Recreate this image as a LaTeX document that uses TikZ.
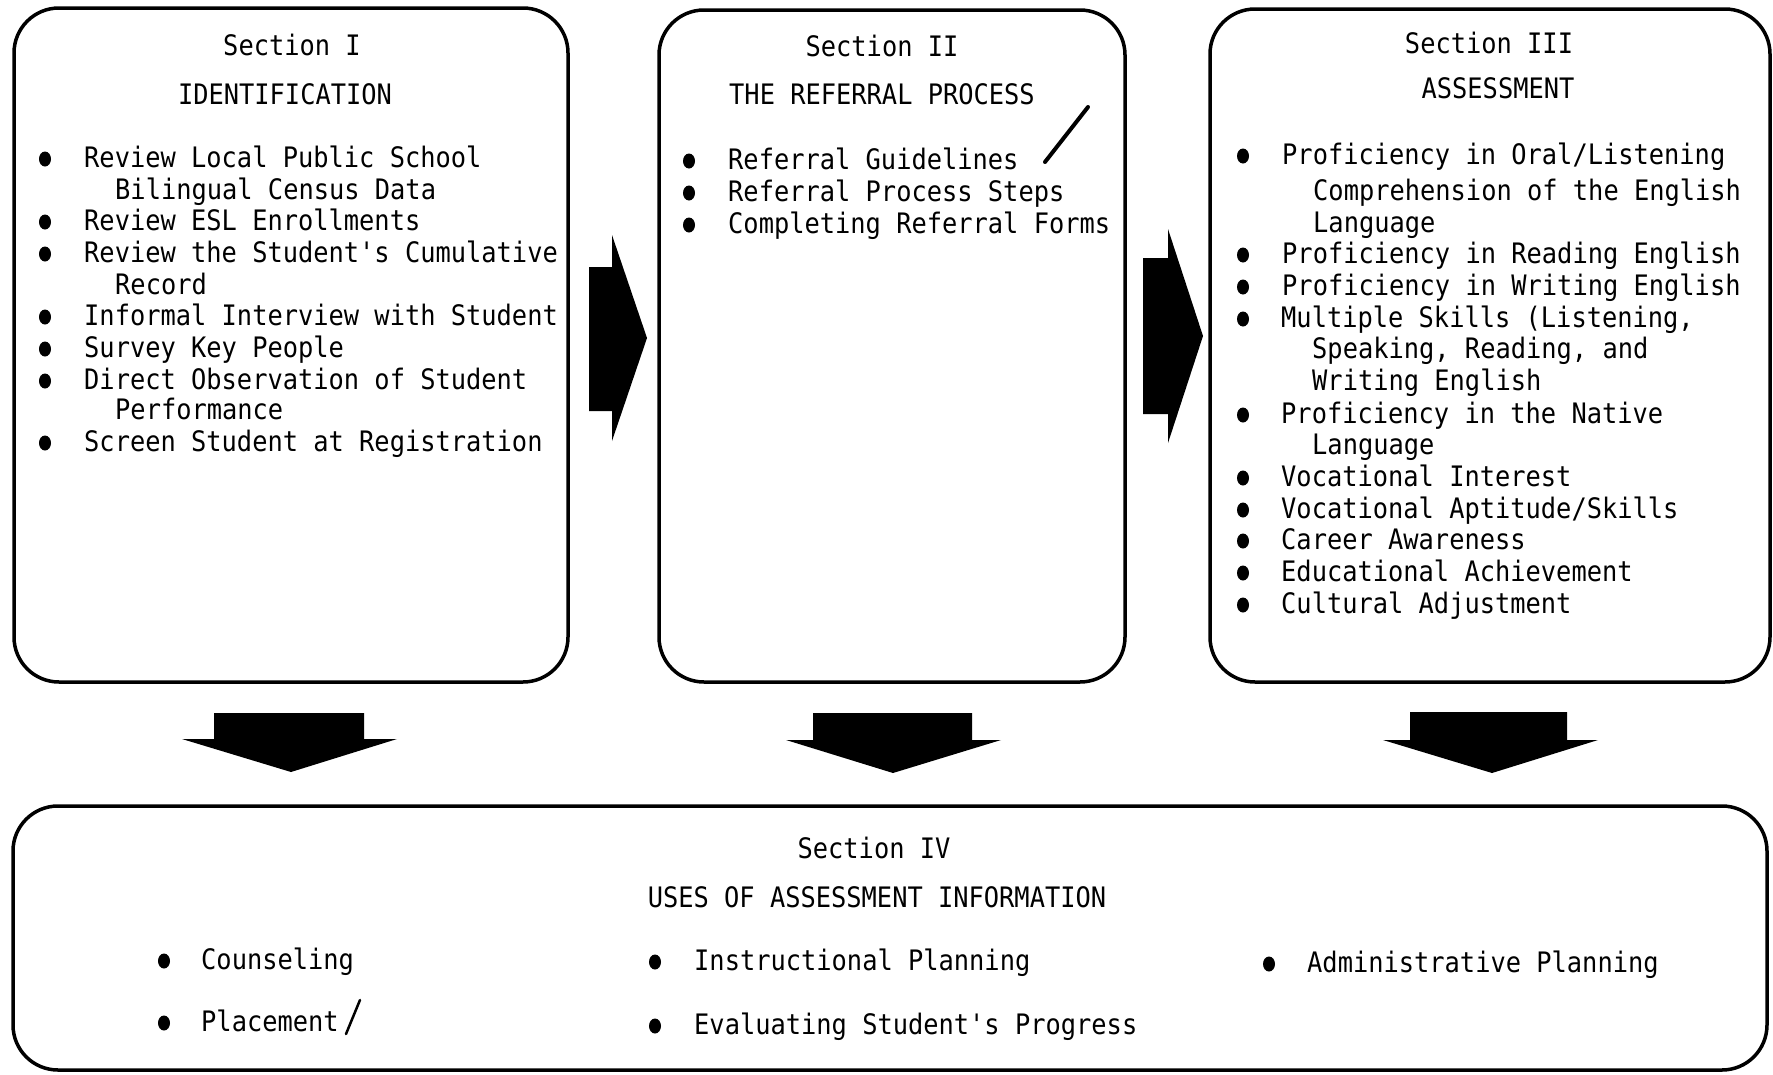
\documentclass[tikz,border=0pt]{standalone}
\usepackage{fontspec}
\usetikzlibrary{shapes.geometric}
\newfontfamily\tw[FakeStretch=0.9,Ligatures=TeXOff]{DejaVu Sans Mono}
\begin{document}
\begin{tikzpicture}[x=1pt,y=-1pt,
  box/.style={draw=black,line width=3.5pt,rounded corners=45pt,inner sep=0pt},
  txt/.style={anchor=mid west,inner sep=0pt,yshift=-8pt,font=\tw\fontsize{28.2}{32}\selectfont},
  head/.style={anchor=mid,inner sep=0pt,yshift=-8pt,font=\tw\fontsize{28.2}{32}\selectfont},
  bul/.style={fill=black,ellipse,inner sep=0pt,yshift=-2pt,minimum width=12pt,minimum height=15pt},
  blk/.style={fill=black},
  pen/.style={line width=2.5pt,line cap=round}
]
\useasboundingbox (0,0) rectangle (1773,1074);
\fill[white] (0,0) rectangle (1773,1074);

% ---- the four section frames
\node[box,minimum width=554pt,minimum height=674pt] (s1) at (291,345) {};
\node[box,minimum width=466pt,minimum height=672pt] (s2) at (892,346) {};
\node[box,minimum width=560pt,minimum height=673pt] (s3) at (1490,345.5) {};
\node[box,minimum width=1754pt,minimum height=264pt] (s4) at (890,938) {};

% ---- block arrows between the frames
\fill[blk] (589,267) -- (612,267) -- (612,235) -- (647,338) -- (612,441) -- (612,411) -- (589,411) -- cycle;
\fill[blk] (1143,258) -- (1168,258) -- (1168,229) -- (1203,336) -- (1168,443) -- (1168,414) -- (1143,414) -- cycle;
\fill[blk] (214,713) -- (364,713) -- (364,739) -- (397,739) -- (291,772) -- (182,739) -- (214,739) -- cycle;
\fill[blk] (813,713) -- (972,713) -- (972,740) -- (1001,740) -- (893,773) -- (786,740) -- (813,740) -- cycle;
\fill[blk] (1410,712) -- (1567,712) -- (1567,740) -- (1598,740) -- (1492,773) -- (1383,740) -- (1410,740) -- cycle;

% ---- Section I
\node[head] (h1a) at (292,45) {Section I};
\node[head] (h1b) at (285,94) {IDENTIFICATION};
\node[bul] (b11) at (45,157) {};
\node[txt] (t11) at (84,157) {Review Local Public School};
\node[txt] (t12) at (115,189) {Bilingual Census Data};
\node[bul] (b12) at (45,220) {};
\node[txt] (t13) at (84,220) {Review ESL Enrollments};
\node[bul] (b13) at (45,252) {};
\node[txt] (t14) at (84,252) {Review the Student's Cumulative};
\node[txt] (t15) at (115,284) {Record};
\node[bul] (b14) at (45,315) {};
\node[txt] (t16) at (84,315) {Informal Interview with Student};
\node[bul] (b15) at (45,347) {};
\node[txt] (t17) at (84,347) {Survey Key People};
\node[bul] (b16) at (45,379) {};
\node[txt] (t18) at (84,379) {Direct Observation of Student};
\node[txt] (t19) at (115,409) {Performance};
\node[bul] (b17) at (45,441) {};
\node[txt] (t1a) at (84,441) {Screen Student at Registration};

% ---- Section II
\node[head] (h2a) at (882,46) {Section II};
\node[head] (h2b) at (882,94) {THE REFERRAL PROCESS};
\node[bul] (b21) at (689,159) {};
\node[txt] (t21) at (728,159) {Referral Guidelines};
\node[bul] (b22) at (689,191) {};
\node[txt] (t22) at (728,191) {Referral Process Steps};
\node[bul] (b23) at (689,223) {};
\node[txt] (t23) at (728,223) {Completing Referral Forms};

% ---- Section III
\node[head] (h3a) at (1489,43) {Section III};
\node[head] (h3b) at (1498,88) {ASSESSMENT};
\node[bul] (b31) at (1243,154) {};
\node[txt] (t31) at (1282,154) {Proficiency in Oral/Listening};
\node[txt] (t32) at (1313,190) {Comprehension of the English};
\node[txt] (t33) at (1313,222) {Language};
\node[bul] (b32) at (1243,253) {};
\node[txt] (t34) at (1282,253) {Proficiency in Reading English};
\node[bul] (b33) at (1243,285) {};
\node[txt] (t35) at (1282,285) {Proficiency in Writing English};
\node[bul] (b34) at (1243,317) {};
\node[txt] (t36) at (1281,317) {Multiple Skills (Listening,};
\node[txt] (t37) at (1312,348) {Speaking, Reading, and};
\node[txt] (t38) at (1312,380) {Writing English};
\node[bul] (b35) at (1243,413) {};
\node[txt] (t39) at (1281,413) {Proficiency in the Native};
\node[txt] (t3a) at (1312,444) {Language};
\node[bul] (b36) at (1243,476) {};
\node[txt] (t3b) at (1281,476) {Vocational Interest};
\node[bul] (b37) at (1243,508) {};
\node[txt] (t3c) at (1281,508) {Vocational Aptitude/Skills};
\node[bul] (b38) at (1243,539) {};
\node[txt] (t3d) at (1281,539) {Career Awareness};
\node[bul] (b39) at (1243,571) {};
\node[txt] (t3e) at (1281,571) {Educational Achievement};
\node[bul] (b3a) at (1243,603) {};
\node[txt] (t3f) at (1281,603) {Cultural Adjustment};

% ---- Section IV
\node[head] (h4a) at (874,848) {Section IV};
\node[head] (h4b) at (877,897) {USES OF ASSESSMENT INFORMATION};
\node[bul] (b41) at (164,959) {};
\node[txt] (t41) at (201,959) {Counseling};
\node[bul] (b42) at (164,1021) {};
\node[txt] (t42) at (201,1021) {Placement};
\node[bul] (b43) at (655,960) {};
\node[txt] (t43) at (694,960) {Instructional Planning};
\node[bul] (b44) at (655,1024) {};
\node[txt] (t44) at (694,1024) {Evaluating Student's Progress};
\node[bul] (b45) at (1269,962) {};
\node[txt] (t45) at (1307,962) {Administrative Planning};

% ---- pen strokes on the sheet
\draw[pen,line width=4pt] (1088,107) -- (1045,162);
\draw[pen] (360,1000) -- (346,1034);
\end{tikzpicture}
\end{document}
